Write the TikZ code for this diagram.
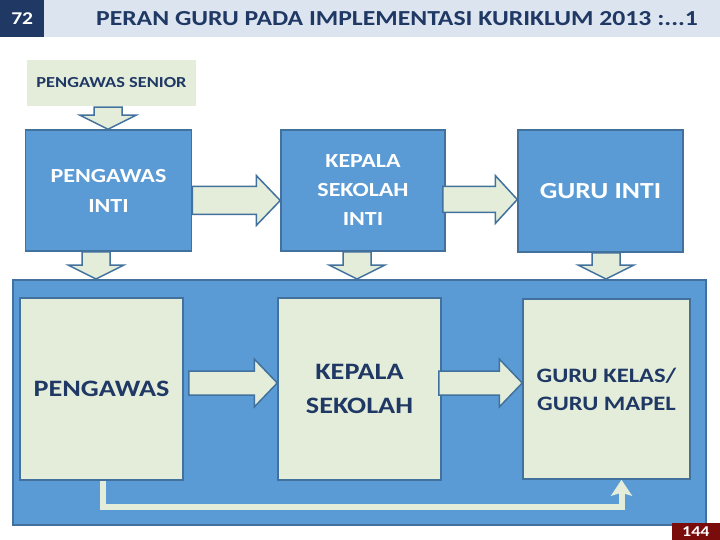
\documentclass[tikz,border=0pt]{standalone}
\usepackage{fontspec}
\setmainfont{Carlito}[FakeStretch=1.2]
\usetikzlibrary{calc,arrows.meta}
\definecolor{band}{HTML}{DCE4F0}
\definecolor{navy}{HTML}{1F3864}
\definecolor{lgreen}{HTML}{E3EDDA}
\definecolor{sblue}{HTML}{5B9BD5}
\definecolor{bblue}{HTML}{41719C}
\definecolor{dred}{HTML}{7B0C0C}
\tikzset{
  bluebox/.style={rectangle, draw=bblue, line width=1.5pt, fill=sblue, text=white, font=\bfseries, align=center, inner sep=0pt},
  greenbox/.style={rectangle, draw=bblue, line width=1.5pt, fill=lgreen, text=navy, font=\bfseries, align=center, inner sep=0pt},
  blk/.style={draw=bblue, line width=1.5pt, fill=lgreen, line join=miter},
  loopline/.style={draw=lgreen, line width=6pt, line join=miter, -{Stealth[length=16pt,width=21pt,inset=3pt]}},
}
\newcommand\blkdown[5]{%
  \draw[blk] ($(#1)+(-#3,0)$) -- ($(#1)+(#3,0)$) -- ($(#1|-#2)+(#3,-#5)$) -- ($(#1|-#2)+(#4,-#5)$) -- (#1|-#2) -- ($(#1|-#2)+(-#4,-#5)$) -- ($(#1|-#2)+(-#3,-#5)$) -- cycle;}
\newcommand\blkright[5]{%
  \draw[blk] ($(#1)+(0,-#3)$) -- ($(#2|-#1)+(-#5,-#3)$) -- ($(#2|-#1)+(-#5,-#4)$) -- (#2|-#1) -- ($(#2|-#1)+(-#5,#4)$) -- ($(#2|-#1)+(-#5,#3)$) -- ($(#1)+(0,#3)$) -- cycle;}
\begin{document}
\begin{tikzpicture}[x=1pt,y=-1pt]
\useasboundingbox (0,0) rectangle (720,540);
% header
\node[rectangle, fill=band, minimum width=720pt, minimum height=37pt, inner sep=0pt, anchor=north west] (bar) at (0,0) {};
\node[rectangle, fill=navy, minimum width=44pt, minimum height=37pt, inner sep=0pt, anchor=north west, text=white, font=\fontsize{18}{22}\selectfont\bfseries] (num) at (0,0) {72};
\node[text=navy, font=\fontsize{21.4}{25}\selectfont\bfseries, inner sep=0pt] (title) at (397,18.5) {PERAN GURU PADA IMPLEMENTASI KURIKLUM 2013 :...1};
% senior
\node[rectangle, fill=lgreen, minimum width=169pt, minimum height=46pt, inner sep=0pt, text=navy, font=\fontsize{15.3}{19}\selectfont\bfseries] (senior) at (111.5,83) {PENGAWAS SENIOR};
% top row
\node[bluebox, minimum width=166pt, minimum height=121pt, font=\fontsize{20}{30}\selectfont\bfseries] (pi) at (108.5,190.5) {PENGAWAS\\INTI};
\node[bluebox, minimum width=164pt, minimum height=121pt, font=\fontsize{20}{29}\selectfont\bfseries] (ksi) at (363,190.5) {KEPALA\\SEKOLAH\\INTI};
\node[bluebox, minimum width=165pt, minimum height=122pt, font=\fontsize{23}{28}\selectfont\bfseries] (gi) at (600.5,191) {GURU INTI};
% container
\node[rectangle, draw=bblue, line width=2pt, fill=sblue, minimum width=693pt, minimum height=245pt, inner sep=0pt] (cont) at (359.5,402.5) {};
% lower row
\node[greenbox, minimum width=163pt, minimum height=182pt, font=\fontsize{23.5}{30}\selectfont\bfseries] (pg) at (101.5,389) {PENGAWAS};
\node[greenbox, minimum width=163pt, minimum height=182pt, font=\fontsize{23.5}{34}\selectfont\bfseries] (ks) at (359.5,389) {KEPALA\\SEKOLAH};
\node[greenbox, minimum width=167pt, minimum height=180pt, font=\fontsize{20.5}{28}\selectfont\bfseries] (gk) at (606.5,389) {GURU KELAS/\\GURU MAPEL};
% down arrows
\coordinate (a1) at ($(senior.south)+(-3.5,1)$);
\blkdown{a1}{pi.north}{14}{28}{14}
\coordinate (a2) at ($(pi.south)+(-12.5,0)$);
\blkdown{a2}{cont.north}{14}{28}{14}
\coordinate (a3) at ($(ksi.south)+(-6,0)$);
\blkdown{a3}{cont.north}{14}{28}{14}
\coordinate (a4) at ($(gi.south)+(5.5,0)$);
\blkdown{a4}{cont.north}{14}{28}{14}
% right arrows top
\coordinate (r1) at ($(pi.east)+(0,10)$);
\blkright{r1}{ksi.west}{14}{25}{24}
\coordinate (r2) at ($(ksi.east)+(-3,9)$);
\blkright{r2}{gi.west}{13}{24}{22}
% right arrows bottom
\coordinate (r3) at ($(pg.east)+(5,-6)$);
\blkright{r3}{ks.west}{12}{24}{23}
\coordinate (r4) at ($(ks.east)+(-3,-6)$);
\blkright{r4}{gk.west}{12}{24}{23}
% loop
\draw[loopline] ($(pg.south)+(1.5,0)$) -- ++(0,26) -| ($(gk.south)+(15,0)$);
% page number
\node[rectangle, fill=dred, minimum width=48pt, minimum height=17pt, inner sep=0pt, anchor=south east, text=white, font=\fontsize{15}{17}\selectfont\bfseries] (pgnum) at (720,540) {144};
\end{tikzpicture}
\end{document}
